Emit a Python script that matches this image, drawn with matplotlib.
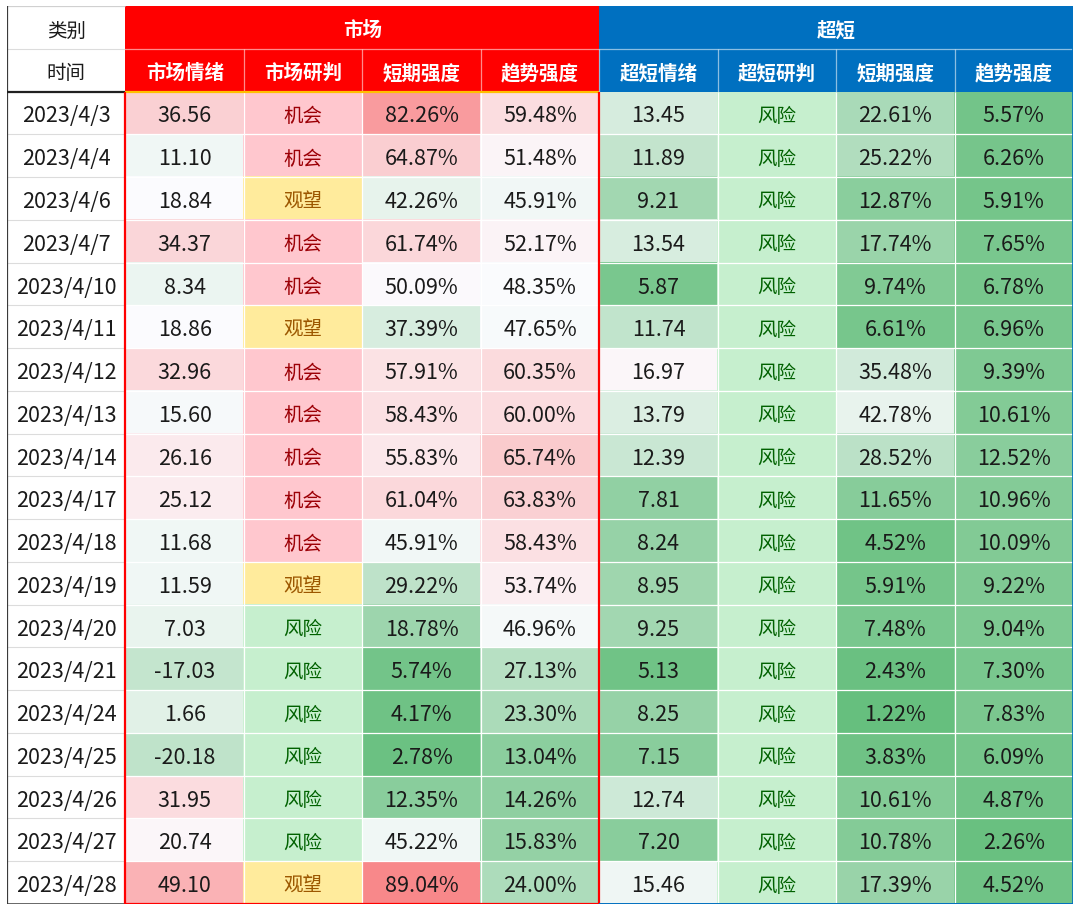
#! /usr/bin/env python3
"""
市场 / 超短 情绪强度表 -> out.png
"""

import numpy as np
import matplotlib
matplotlib.use('Agg')
import matplotlib.pyplot as plt
from matplotlib.colors import LinearSegmentedColormap, TwoSlopeNorm
from matplotlib.patches import Rectangle

plt.rcParams['font.family'] = ['Noto Sans CJK SC', 'DejaVu Sans']

# 数据
dates = ['2023/4/3', '2023/4/4', '2023/4/6', '2023/4/7', '2023/4/10', '2023/4/11',
         '2023/4/12', '2023/4/13', '2023/4/14', '2023/4/17', '2023/4/18', '2023/4/19',
         '2023/4/20', '2023/4/21', '2023/4/24', '2023/4/25', '2023/4/26', '2023/4/27',
         '2023/4/28']

mkt_mood = [36.56, 11.10, 18.84, 34.37, 8.34, 18.86, 32.96, 15.60, 26.16, 25.12,
            11.68, 11.59, 7.03, -17.03, 1.66, -20.18, 31.95, 20.74, 49.10]
mkt_judge = ['机会', '机会', '观望', '机会', '机会', '观望', '机会', '机会', '机会', '机会',
             '机会', '观望', '风险', '风险', '风险', '风险', '风险', '风险', '观望']
mkt_short = [82.26, 64.87, 42.26, 61.74, 50.09, 37.39, 57.91, 58.43, 55.83, 61.04,
             45.91, 29.22, 18.78, 5.74, 4.17, 2.78, 12.35, 45.22, 89.04]
mkt_trend = [59.48, 51.48, 45.91, 52.17, 48.35, 47.65, 60.35, 60.00, 65.74, 63.83,
             58.43, 53.74, 46.96, 27.13, 23.30, 13.04, 14.26, 15.83, 24.00]

ss_mood = [13.45, 11.89, 9.21, 13.54, 5.87, 11.74, 16.97, 13.79, 12.39, 7.81,
           8.24, 8.95, 9.25, 5.13, 8.25, 7.15, 12.74, 7.20, 15.46]
ss_judge = ['风险'] * 19
ss_short = [22.61, 25.22, 12.87, 17.74, 9.74, 6.61, 35.48, 42.78, 28.52, 11.65,
            4.52, 5.91, 7.48, 2.43, 1.22, 3.83, 10.61, 10.78, 17.39]
ss_trend = [5.57, 6.26, 5.91, 7.65, 6.78, 6.96, 9.39, 10.61, 12.52, 10.96,
            10.09, 9.22, 9.04, 7.30, 7.83, 6.09, 4.87, 2.26, 4.52]

sub_headers = ['市场情绪', '市场研判', '短期强度', '趋势强度',
               '超短情绪', '超短研判', '短期强度', '趋势强度']

# 色阶 (绿-白-红)
cmap = LinearSegmentedColormap.from_list('gwr', ['#63BE7B', '#FCFCFF', '#F8696B'])
mood_norm = TwoSlopeNorm(vmin=-80, vcenter=18.8, vmax=80)
ss_mood_norm = TwoSlopeNorm(vmin=4, vcenter=16.5, vmax=30)
strength_norm = TwoSlopeNorm(vmin=0, vcenter=49, vmax=100)

judge_style = {'机会': ('#FFC7CE', '#9C0006'),
               '观望': ('#FFEB9C', '#9C5700'),
               '风险': ('#C6EFCE', '#006100')}

RED = '#FF0000'
BLUE = '#0070C0'
TXT = '#1A1A1A'
DY = 0.06   # 文字下移一点, 居中


def main():
    n = len(dates)
    columns = [
        ('num', mkt_mood, mood_norm),
        ('judge', mkt_judge, None),
        ('pct', mkt_short, strength_norm),
        ('pct', mkt_trend, strength_norm),
        ('num', ss_mood, ss_mood_norm),
        ('judge', ss_judge, None),
        ('pct', ss_short, strength_norm),
        ('pct', ss_trend, strength_norm),
    ]

    # 单元格颜色
    rgb = np.ones((n, len(columns), 3))
    for j, (kind, vals, norm) in enumerate(columns):
        for i, v in enumerate(vals):
            if kind == 'judge':
                rgb[i, j] = matplotlib.colors.to_rgb(judge_style[v][0])
            else:
                rgb[i, j] = cmap(norm(v))[:3]

    fig = plt.figure(figsize=(10.8, 9.12), dpi=100)
    ax = fig.add_axes([7 / 1080, 7 / 912, 1066 / 1080, 898 / 912])

    ax.imshow(rgb, extent=(1, 9, 2 + n, 2), origin='upper', aspect='auto',
              interpolation='nearest')
    ax.set_xlim(0, 9)
    ax.set_ylim(2 + n, 0)
    ax.axis('off')

    # 表头
    ax.add_patch(Rectangle((1, 0), 4, 2, color=RED, lw=0))
    ax.add_patch(Rectangle((5, 0), 4, 2, color=BLUE, lw=0))
    ax.text(3, 0.5 + DY, '市场', ha='center', va='center', color='white',
            fontsize=14, fontweight='bold')
    ax.text(7, 0.5 + DY, '超短', ha='center', va='center', color='white',
            fontsize=14, fontweight='bold')
    for j, h in enumerate(sub_headers):
        ax.text(j + 1.5, 1.5 + DY, h, ha='center', va='center', color='white',
                fontsize=14, fontweight='bold')
    ax.text(0.5, 0.5 + DY, '类别', ha='center', va='center', color=TXT, fontsize=14)
    ax.text(0.5, 1.5 + DY, '时间', ha='center', va='center', color=TXT, fontsize=14)

    # 表头内分隔线
    ax.hlines(1, 1, 9, colors='white', alpha=0.55, lw=0.9)
    ax.vlines(np.arange(2, 9), 1, 2, colors='white', alpha=0.55, lw=0.9)

    # 数据
    for i in range(n):
        y = i + 2.5 + DY
        ax.text(0.5, y, dates[i], ha='center', va='center', color=TXT, fontsize=15.5)
        for j, (kind, vals, norm) in enumerate(columns):
            v = vals[i]
            if kind == 'judge':
                ax.text(j + 1.5, y, v, ha='center', va='center',
                        color=judge_style[v][1], fontsize=14)
            else:
                s = f'{v:.2f}%' if kind == 'pct' else f'{v:.2f}'
                ax.text(j + 1.5, y, s, ha='center', va='center', color=TXT,
                        fontsize=15.5)

    # 网格线
    ax.hlines(np.arange(3, 2 + n), 1, 9, colors='white', lw=0.9)
    ax.vlines(np.arange(2, 9), 2, 2 + n, colors='white', lw=0.9)
    ax.hlines(np.arange(1, 2 + n), 0, 1, colors='#DCDCDC', lw=0.8)
    ax.hlines(0, 0, 1, colors='#D0D0D0', lw=0.9)

    # 边框
    ax.vlines(0, 0, 2 + n, colors='#3A3A3A', lw=1.6)
    ax.hlines(2, 0, 1, colors='#202020', lw=1.6)
    ax.hlines(2 + n, 0, 1, colors='#3A3A3A', lw=1.8)
    ax.hlines(2, 1, 5, colors='#FFC000', lw=1.6)
    ax.vlines([1, 5], 2, 2 + n, colors=RED, lw=1.6)
    ax.hlines(2 + n, 1, 5, colors=RED, lw=1.6)
    ax.vlines(9, 0, 2 + n, colors=BLUE, lw=1.2)
    ax.hlines(2 + n, 5, 9, colors=BLUE, lw=1.4)

    fig.savefig('out.png', dpi=100)


if __name__ == '__main__':
    main()
